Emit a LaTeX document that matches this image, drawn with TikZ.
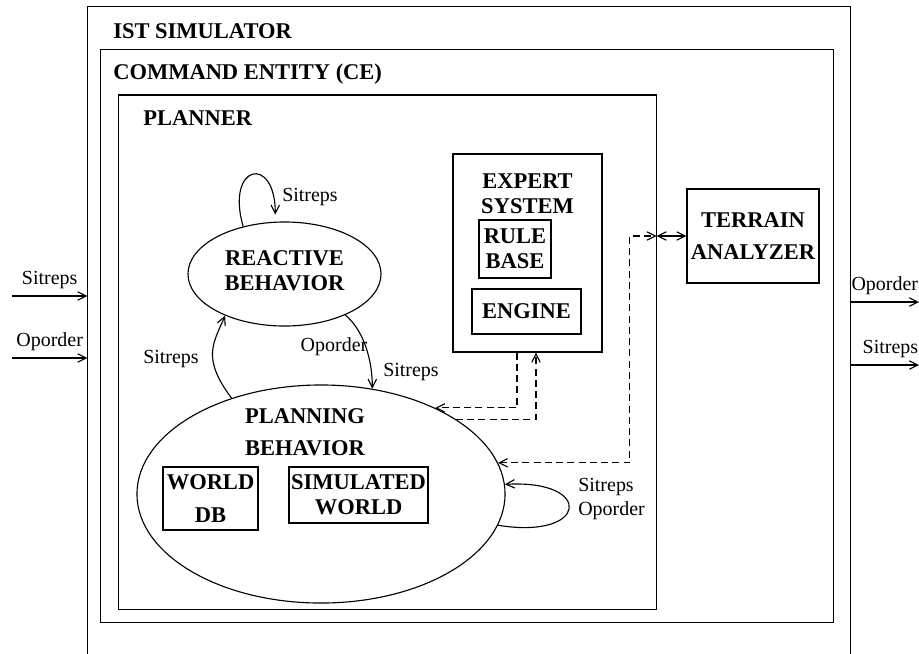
\documentclass[tikz,border=0pt]{standalone}
\usepackage{fontspec}
\setmainfont{Liberation Serif}
\usetikzlibrary{arrows.meta}
\usetikzlibrary{shapes.geometric}

\tikzset{
  unit/.style={draw, rectangle, line width=0.8pt, inner sep=0pt, align=center,
    font=\fontsize{16}{18}\selectfont\bfseries},
  behavior/.style={draw, ellipse, line width=0.8pt, inner sep=0pt, align=center,
    font=\fontsize{16}{18}\selectfont\bfseries},
  heading/.style={anchor=base west, inner sep=0pt, font=\fontsize{16}{18}\selectfont\bfseries},
  msg/.style={inner sep=0pt, align=left, font=\fontsize{14.2}{17}\selectfont},
  flow/.style={->, line width=0.8pt},
  query/.style={flow, dash pattern=on 5pt off 3pt}
}

\begin{document}
\begin{tikzpicture}[x=0.025cm, y=-0.025cm, >={Straight Barb[length=6pt,width=6pt]}]
  \useasboundingbox (0,0) rectangle (919,653);

  % Nested frames
  \node[unit, minimum width=19.05cm, minimum height=16.825cm] (sim) at (469,343.5) {};
  \node[unit, minimum width=18.3cm, minimum height=14.3cm] (ce) at (467,336) {};
  \node[unit, minimum width=13.425cm, minimum height=12.85cm] (planner) at (387.5,352) {};
  \node[heading] (sim title) at (113,38.5) {IST SIMULATOR};
  \node[heading] (ce title) at (113,79.5) {COMMAND ENTITY (CE)};
  \node[heading] (planner title) at (143,125.5) {PLANNER};

  % Expert system and terrain analyzer
  \node[unit, minimum width=3.725cm, minimum height=4.95cm] (expert) at (527.5,253) {};
  \node[unit, draw=none] (expert title) at (527.5,194) {EXPERT\\SYSTEM};
  \node[unit, minimum width=1.8cm, minimum height=1.45cm] (rules) at (515,249) {RULE\\BASE};
  \node[unit, minimum width=2.725cm, minimum height=1.125cm] (engine) at (526.5,311.5) {ENGINE};
  \node[unit, minimum width=3.3cm, minimum height=2.35cm] (terrain) at (753,236) {TERRAIN\\[5pt]ANALYZER};

  % Behaviors
  \node[behavior, minimum width=4.825cm, minimum height=2.6cm] (reactive) at (284.5,274) {};
  \node[unit, draw=none] (reactive title) at (284.5,270.5) {REACTIVE\\BEHAVIOR};
  \node[behavior, minimum width=9.2cm, minimum height=5.45cm] (planning) at (321,494) {};
  \node[unit, draw=none] (planning title) at (305,432) {PLANNING\\[5pt]BEHAVIOR};
  \node[unit, minimum width=2.375cm, minimum height=1.575cm] (worlddb) at (210.5,498.5) {WORLD\\[6pt]DB};
  \node[unit, minimum width=3.475cm, minimum height=1.4cm] (simworld) at (358.5,495) {SIMULATED\\WORLD};

  % Messages between the behaviors
  \draw[flow, shorten >=5pt] (reactive.131) .. controls +(-18,-62) and +(0,-68) .. (reactive.100);
  \node[msg] (reactive loop) at (310,197) {Sitreps};
  \draw[flow] (planning.133) .. controls +(-30,-40) and +(-12,28) .. (reactive.215);
  \node[msg] (up msg) at (171,359) {Sitreps};
  \draw[flow] (reactive.-34) .. controls +(18,15) and +(0,-30) .. (planning.64);
  \node[msg] (down msg) at (334,347) {Oporder};
  \node[msg] (down msg2) at (411,372) {Sitreps};
  \draw[flow] (planning.-10) .. controls +(90,15) and +(90,-5) .. (planning.3);
  \node[msg, anchor=west] (planning loop) at (578,499) {Sitreps\\Oporder};

  % Queries to the expert system and terrain analyzer
  \draw[query] ([xshift=-0.2625cm]expert.south) |- (planning.37);
  \draw[query] (planning.29) -| ([xshift=0.2125cm]expert.south);
  \coordinate (gate) at (planner.east |- terrain.west);
  \draw[query, <->] (planning.10) -| ([xshift=-0.675cm]gate) -- (gate);
  \draw[flow, <->] (gate) -- (terrain.west);

  % Orders and reports in and out
  \coordinate (sitreps in) at (12,296);
  \coordinate (oporder in) at (12,358);
  \coordinate (oporder out) at (919,302);
  \coordinate (sitreps out) at (919,365);
  \draw[flow] (sitreps in) -- (sitreps in -| sim.west) node[msg, midway, above=5pt] {Sitreps};
  \draw[flow] (oporder in) -- (oporder in -| sim.west) node[msg, midway, above=5pt] {Oporder};
  \draw[flow] (oporder out -| sim.east) -- (oporder out) node[msg, midway, above=5pt] {Oporder};
  \draw[flow] (sitreps out -| sim.east) -- (sitreps out) node[msg, midway, above=5pt, xshift=4pt] {Sitreps};

\end{tikzpicture}
\end{document}
